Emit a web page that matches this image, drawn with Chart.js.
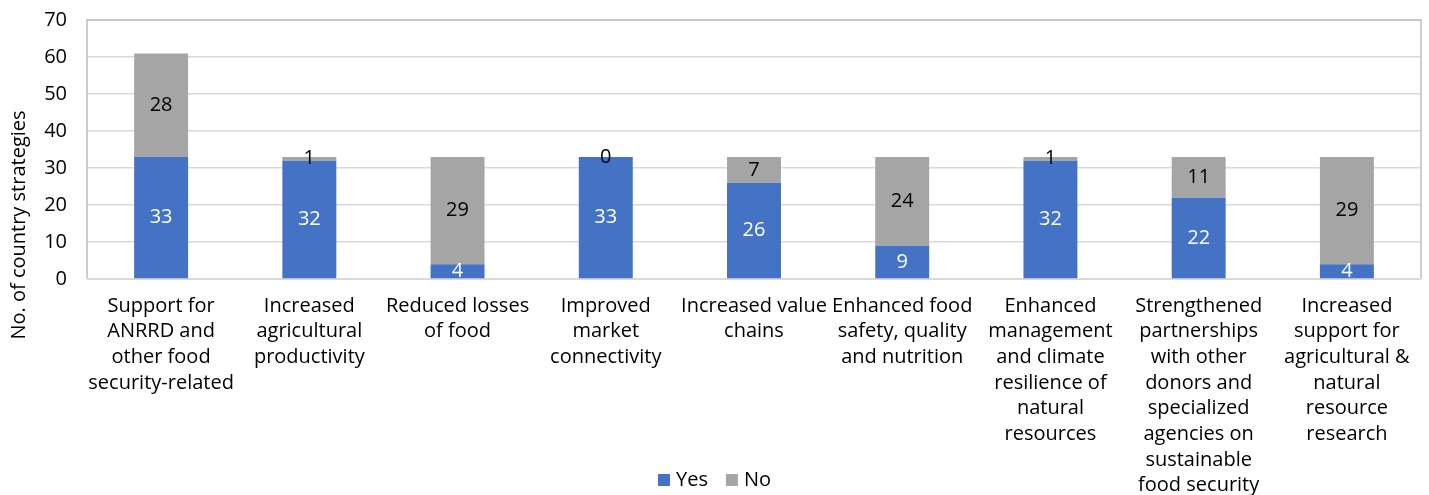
<!DOCTYPE html>
<html>
<head>
<meta charset="utf-8">
<script src="https://cdn.jsdelivr.net/npm/chart.js@4"></script>
<style>
  html, body { margin: 0; padding: 0; background: #ffffff; }
  #wrap { width: 1429px; height: 495px; position: relative; }
</style>
</head>
<body>
<div id="wrap"><canvas id="c"></canvas></div>
<script>
const categories = [
  ["Support for", "ANRRD and", "other food", "security-related"],
  ["Increased", "agricultural", "productivity"],
  ["Reduced losses", "of food"],
  ["Improved", "market", "connectivity"],
  ["Increased value", "chains"],
  ["Enhanced food", "safety, quality", "and nutrition"],
  ["Enhanced", "management", "and climate", "resilience of", "natural", "resources"],
  ["Strengthened", "partnerships", "with other", "donors and", "specialized", "agencies on", "sustainable", "food security"],
  ["Increased", "support for", "agricultural &", "natural", "resource", "research"]
];
const yesValues = [33, 32, 4, 33, 26, 9, 32, 22, 4];
const noValues = [28, 1, 29, 0, 7, 24, 1, 11, 29];
const seriesNames = ["Yes", "No"];
const yTitle = "No. of country strategies";
const yMin = 0, yMax = 70, yStep = 10;

const FONT = "'Open Sans', 'Noto Sans', sans-serif";
const FS = 20;
const colors = ["#4472C4", "#A5A5A5"];
const labelColors = ["#FFFFFF", "#000000"];

const plotFrame = {
  id: 'plotFrame',
  beforeDatasetsDraw(chart) {
    const a = chart.chartArea, ctx = chart.ctx;
    ctx.save();
    ctx.strokeStyle = '#BFBFBF';
    ctx.lineWidth = 1.5;
    ctx.beginPath();
    ctx.moveTo(a.left, a.bottom);
    ctx.lineTo(a.left, a.top);
    ctx.lineTo(a.right, a.top);
    ctx.lineTo(a.right, a.bottom);
    ctx.stroke();
    ctx.strokeStyle = '#D9D9D9';
    ctx.lineWidth = 2;
    ctx.beginPath();
    ctx.moveTo(a.left, a.bottom);
    ctx.lineTo(a.right, a.bottom);
    ctx.stroke();
    ctx.restore();
  }
};

const valueLabels = {
  id: 'valueLabels',
  afterDatasetsDraw(chart) {
    const ctx = chart.ctx;
    ctx.save();
    ctx.font = FS + "px " + FONT;
    ctx.textAlign = 'center';
    ctx.textBaseline = 'middle';
    chart.data.datasets.forEach((ds, di) => {
      const meta = chart.getDatasetMeta(di);
      ctx.fillStyle = labelColors[di];
      meta.data.forEach((el, i) => {
        const p = el.getProps(['x', 'y', 'base'], true);
        ctx.fillText(String(ds.data[i]), p.x, (p.y + p.base) / 2);
      });
    });
    ctx.restore();
  }
};

const extras = {
  id: 'extras',
  afterDraw(chart) {
    const ctx = chart.ctx;
    ctx.save();
    // y-axis title
    ctx.font = FS + "px " + FONT;
    ctx.fillStyle = '#000000';
    ctx.translate(19, 225);
    ctx.rotate(-Math.PI / 2);
    ctx.textAlign = 'center';
    ctx.textBaseline = 'middle';
    ctx.fillText(yTitle, 0, 0);
    ctx.restore();

    // legend
    ctx.save();
    ctx.font = FS + "px " + FONT;
    ctx.textBaseline = 'middle';
    ctx.textAlign = 'left';
    const box = 12, gapBoxText = 6, gapItems = 18;
    const items = chart.data.datasets.map((ds, i) => ({ text: ds.label, color: colors[i], w: ctx.measureText(ds.label).width }));
    let total = 0;
    items.forEach((it, i) => { total += box + gapBoxText + it.w + (i < items.length - 1 ? gapItems : 0); });
    let x = chart.width / 2 - total / 2;
    const y = 480;
    items.forEach(it => {
      ctx.fillStyle = it.color;
      ctx.fillRect(x, y - box / 2, box, box);
      x += box + gapBoxText;
      ctx.fillStyle = '#000000';
      ctx.fillText(it.text, x, y);
      x += it.w + gapItems;
    });
    ctx.restore();
  }
};

new Chart(document.getElementById('c'), {
  type: 'bar',
  data: {
    labels: categories,
    datasets: [
      { label: seriesNames[0], data: yesValues, backgroundColor: colors[0], categoryPercentage: 1, barPercentage: 0.364 },
      { label: seriesNames[1], data: noValues, backgroundColor: colors[1], categoryPercentage: 1, barPercentage: 0.364 }
    ]
  },
  options: {
    responsive: true,
    maintainAspectRatio: false,
    animation: false,
    layout: { padding: { left: 30, right: 8, top: 19, bottom: 0 } },
    plugins: {
      legend: { display: false },
      tooltip: { enabled: false }
    },
    scales: {
      x: {
        stacked: true,
        afterFit(scale) { scale.height = 216; },
        grid: { display: false, drawTicks: false },
        border: { display: false },
        ticks: {
          color: '#000000',
          font: { family: FONT, size: FS, lineHeight: 1.285 },
          padding: 14,
          maxRotation: 0,
          minRotation: 0,
          autoSkip: false
        }
      },
      y: {
        stacked: true,
        min: yMin,
        max: yMax,
        afterFit(scale) { scale.width = 57; },
        grid: { color: '#D9D9D9', lineWidth: 1.5, drawTicks: false },
        border: { display: false },
        ticks: {
          stepSize: yStep,
          color: '#000000',
          font: { family: FONT, size: FS, lineHeight: 0.01 },
          padding: 20
        }
      }
    }
  },
  plugins: [plotFrame, valueLabels, extras]
});
</script>
</body>
</html>
